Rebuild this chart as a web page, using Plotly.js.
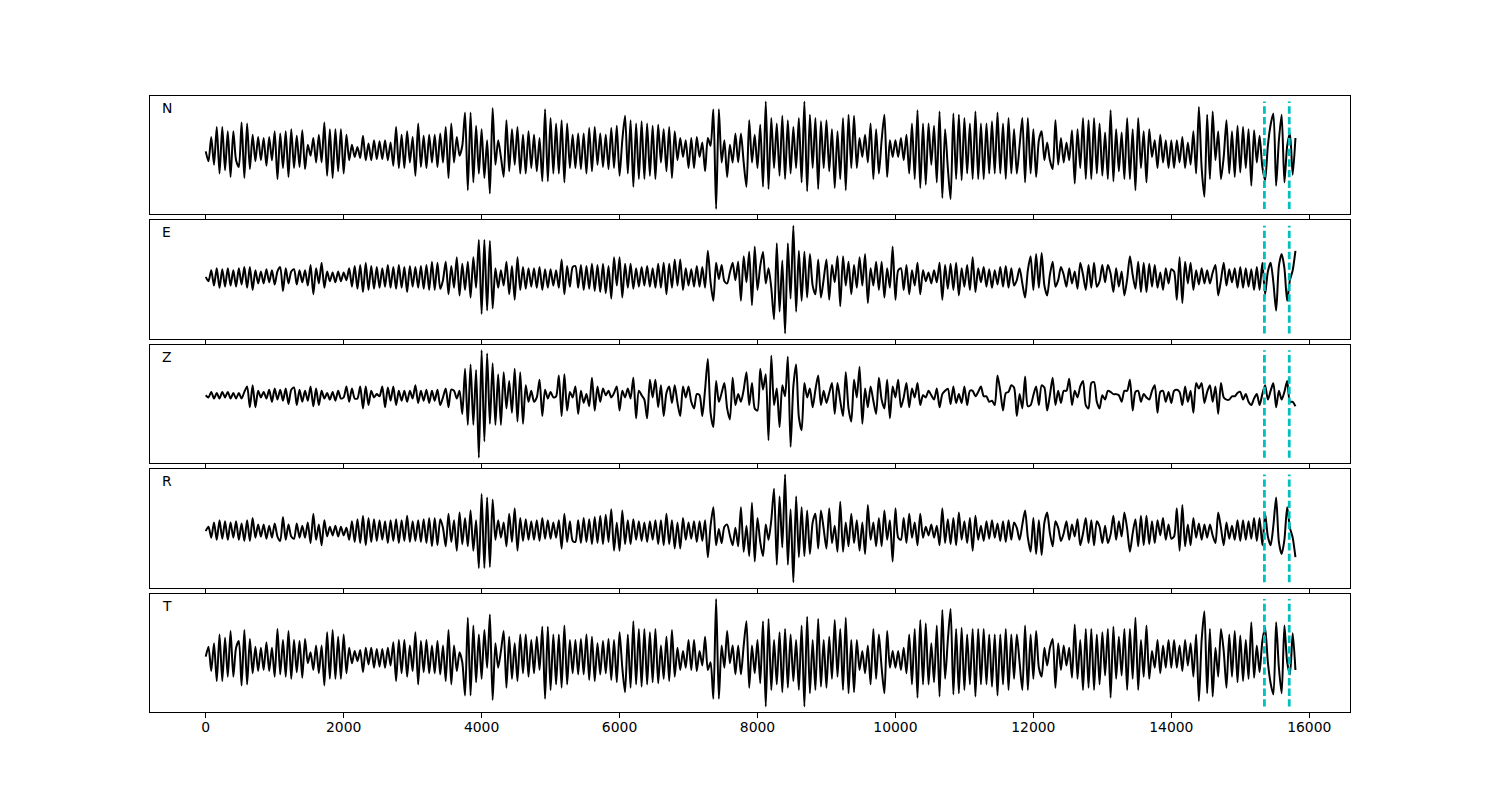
<!DOCTYPE html>
<html>
<head>
<meta charset="utf-8">
<script src="https://cdn.plot.ly/plotly-3.0.1.min.js"></script>
<style>
  html, body { margin: 0; padding: 0; background: #ffffff; }
  #chart { width: 1500px; height: 800px; }
</style>
</head>
<body>
<div id="chart"></div>
<script>
// ---------- data ----------
const sampleStep = 40;               // time units between samples
const channelNames = ["N", "E", "Z", "R", "T"];
const markerTimes = [15350, 15710];  // cyan dashed picks
const tickValues = [0, 2000, 4000, 6000, 8000, 10000, 12000, 14000, 16000];
const tickLabels = ["0", "2000", "4000", "6000", "8000", "10000", "12000", "14000", "16000"];

const traceN = [
0,-9,13,-12,22,-20,22,-17,18,-23,18,-8,-14,26,-24,
25,-16,15,-9,13,-8,12,-13,13,-8,18,-25,16,-15,
18,-23,20,-15,14,-14,19,-16,
6,-4,12,-10,15,-10,26,-22,20,-24,20,-18,20,-20,15,-8,
6,-5,4,-6,14,-8,7,-8,10,-7,9,-7,10,-8,8,-13,
22,-15,15,-15,18,-10,13,-22,25,-14,14,-15,
15,-10,15,-14,16,-10,22,-24,25,-10,13,-4,
5,
35,-35,35,-28,23,-20,20,-24,10,-38,39,
-12,10,-5,-23,28,-18,20,-12,22,-20,15,-20,18,
-15,15,-18,12,-27,38,-27,30,-20,25,-20,28,-28,25,-15,15,
-15,16,-16,16,-20,21,-18,22,-12,16,-14,15,-16,21,-15,23,-22,
10,32,-20,28,-32,25,-25,27,-25,25,-22,23,-25,24,-10,20,-18,22,-24,18,
-8,12,-5,10,-15,12,-15,13,-5,8,-18,12,
5,38,-52,38,-10,10,-23,6,-10,16,-10,16,-10,-32,
28,-10,15,-15,24,-32,45,-34,30,-15,25,-22,32,-25,28,-20,22,-15,30,-28,45,-36,
33,-15,30,-34,27,-15,28,-18,
20,-33,18,-25,30,-35,
33,-15,32,-15,12,-5,15,-10,25,-25,20,-20,10,33,-23,10,-5,
10,-5,12,-8,15,-20,25,-25,37,-33,25,-30,25,-12,23,-28,36,-42,20,
-15,-43,34,-25,33,-26,30,-20,25,-25,36,-25,25,-25,25,-20,
27,-20,35,-20,25,-25,30,-20,20,-20,5,30,-28,30,-20,20,-23,10,
18,-8,8,-8,-16,28,-12,12,-10,8,-8,19,-29,20,
-15,30,-25,28,-25,30,-20,25,-22,17,-25,37,-27,20,-18,17,-25,30,-25,20,-35,30,-15,18,
-28,20,-5,10,-15,15,-10,10,-15,10,-15,10,-10,13,-15,8,-12,18,-20,40,
-15,-41,33,-25,36,-8,18,-25,-5,28,-20,18,-23,23,-19,22,-15,20,-31,19,-10,14,-14,
-26,5,24,34,-31,10,33,-28,5,16,-21,12
];

const traceE = [
0,-4,6,-8,8,-10,7,-9,8,-8,6,-9,8,-7,9,-10,9,
-12,6,-6,5,-6,7,-5,6,-7,5,9,-13,8,-6,5,
7,-7,6,-5,6,-8,11,-16,8,-6,13,-10,5,-4,
4,-5,5,-4,4,-3,8,-9,10,-11,11,-14,13,
-12,10,-11,9,-10,8,-9,11,-10,9,-11,11,-10,9,-14,10,
-9,9,-10,10,-11,11,-12,14,-12,13,-11,-3,14,-16,10,
-10,18,-17,12,-12,14,-19,18,
-10,34,-34,34,-31,33,-29,
8,-10,6,-8,14,-16,10,-21,18,-12,9,-11,8,
-9,8,-10,9,-12,7,-10,7,-8,6,-10,16,-16,10,-9,9,
10,-10,11,-12,10,-11,12,-13,11,-14,12,-15,10,-20,18,-8,18,
-19,12,-10,12,-11,8,-9,9,-8,10,-9,8,-10,12,-10,13,-16,12,-10,16,
-8,16,-12,8,-8,7,-9,10,-9,9,-10,24,
-5,-22,13,-2,11,-4,-6,4,13,-3,14,-22,19,-5,23,-26,28,
-12,10,23,-6,8,-10,-39,31,-32,15,-52,31,-20,47,-32,24,-22,23,
-19,21,-8,-16,16,-19,-2,16,-21,11,-5,19,-27,19,-8,14,-16,
11,-10,18,-8,21,-24,8,-8,14,-12,14,-19,8,-10,
28,
-21,6,8,-12,11,-16,6,-8,13,-16,6,-4,4,-6,6,-5,13,-21,11,
-11,12,-12,13,-17,8,-9,11,-12,18,-14,8,-5,9,-9,7,
-10,6,-7,9,-9,10,-10,8,-8,-3,8,-6,-19,6,19,-12,21,
-10,22,-8,-17,2,14,-9,-3,9,2,-9,8,-6,5,-11,
13,2,-12,11,-10,13,-9,-4,11,-5,11,3,-14,8,-9,5,-17,-2,19,2,-11,14,-14,13,
-14,12,-9,11,-10,4,-12,8,-6,7,5,-21,18,-24,14,-6,13,-12,6,-7,
8,-6,6,-6,4,11,-17,-3,13,-8,7,-5,8,-10,9,-10,8,-9,7,-12,9,-12,13,
-16,5,13,-5,-31,10,21,8,-22,-3,6,24
];

const traceZ = [
0,-2,3,-3,2,-3,3,-2,3,-3,2,-3,2,-3,3,8,-11,
9,-11,4,-2,3,-3,5,-6,6,-4,5,-5,6,-8,5,
7,-9,5,-6,4,-5,8,-10,6,-9,4,-3,2,-4,
3,-5,4,-3,-2,8,-6,6,-3,-3,8,-12,8,
-9,4,-2,1,-1,8,-11,7,-5,8,-9,4,-5,4,-6,4,
-3,9,-7,4,-5,5,-7,4,-5,5,-9,-2,6,-11,5,
4,-3,4,-17,24,-27,28,-27,23,-57,41,-42,38,-26,29,-27,19,-27,21,-12,13,-16,24,-24,21,-26,9,-6,
4,-6,-2,14,-19,5,-3,3,-2,-1,18,-19,19,-14,3,-2,
8,-17,4,-7,1,-10,16,-14,8,-6,6,0,4,-2,2,8,-14,
4,-2,6,-3,16,-21,4,0,-4,-21,14,-2,14,-11,9,-19,2,8,-7,9,-7,
-19,8,-2,8,-6,-12,1,0,-19,5,33,
-16,-29,13,-6,2,11,-12,-22,16,-9,1,-6,5,
21,-9,11,-12,-14,24,5,19,-41,36,-9,6,-29,9,-1,
35,-47,8,28,-20,-32,11,-2,6,-11,5,18,-9,4,-7,2,11,-17,11,-5,-19,21,-12,-24,14,-2,26,-26,6,-11,
8,-5,-17,16,-4,-12,14,-21,8,-2,14,-11,-2,11,-11,6,-2,11,-9,0,-2,4,0,-4,6,-11,1,4,
6,-8,8,-7,1,-7,8,-9,4,4,
-1,3,8,-1,-1,-6,-5,-9,18,4,
-14,2,3,9,7,-19,1,-12,17,-10,
-9,0,8,-9,9,7,-14,0,16,-9,
4,-7,4,4,15,-9,4,-2,8,13,
-9,-12,11,12,-6,-12,0,-4,4,3,
1,1,0,-6,4,4,14,-14,3,4,
-6,1,-2,-4,4,9,-16,3,4,-6,
3,-7,4,5,3,-9,8,-6,4,-16,
11,6,11,-7,3,9,-6,8,-17,11,
-2,-4,-4,-1,-1,2,3,-4,1,-6,
-9,-3,1,-9,1,9,-4,4,11,-11,
4,-4,3,13,-6,-6,-10
];

const traceR = [
0,4,-6,8,-8,10,-7,9,-8,8,-6,9,-8,7,-9,10,-9,
12,-6,6,-5,6,-7,5,-6,7,-5,-9,13,-8,6,-5,
-7,7,-6,5,-6,8,-11,16,-8,6,-13,10,-5,4,
-4,5,-5,4,-4,3,-8,9,-10,11,-11,14,-13,
12,-10,11,-9,10,-8,9,-11,10,-9,11,-11,10,-9,14,-10,
9,-9,10,-10,11,-11,12,-14,12,-13,11,3,-14,16,-10,
10,-18,17,-12,12,-14,19,-18,
10,-34,34,-34,31,-33,29,
-8,10,-6,8,-14,16,-10,21,-18,12,-9,11,-8,
9,-8,10,-9,12,-7,10,-7,8,-6,10,-16,16,-10,9,-9,
-10,10,-11,12,-10,11,-12,13,-11,14,-12,15,-10,20,-18,8,-18,
19,-12,10,-12,11,-8,9,-9,8,-10,9,-8,10,-12,10,-13,16,-12,10,-16,
8,-16,12,-8,8,-7,9,-10,9,-9,10,-24,
5,22,-13,2,-11,4,6,-4,-13,3,-14,22,-19,5,-23,26,-28,
12,-10,-23,6,-8,10,39,-31,32,-15,52,-31,20,-47,32,-24,22,-23,
19,-21,8,16,-16,19,2,-16,21,-11,5,-19,27,-19,8,-14,16,
-11,10,-18,8,-21,24,-8,8,-14,12,-14,19,-8,10,
-28,
21,-6,-8,12,-11,16,-6,8,-13,16,-6,4,-4,6,-6,5,-13,21,-11,
11,-12,12,-13,17,-8,9,-11,12,-18,14,-8,5,-9,9,-7,
10,-6,7,-9,9,-10,10,-8,8,3,-8,6,19,-6,-19,12,-21,
10,-22,8,17,-2,-14,9,3,-9,-2,9,-8,6,-5,11,
-13,-2,12,-11,10,-13,9,4,-11,5,-11,-3,14,-8,9,-5,17,2,-19,-2,11,-14,14,-13,
14,-12,9,-11,10,-4,12,-8,6,-7,-5,21,-18,24,-14,6,-13,12,-6,7,
-8,6,-6,6,-4,-11,17,3,-13,8,-7,5,-8,10,-9,10,-8,9,-7,12,-9,12,-13,
16,-5,-13,5,31,-10,-21,-8,22,3,-6,-24
];

const traceT = [
0,9,-13,12,-22,20,-22,17,-18,23,-18,8,14,-26,24,
-25,16,-15,9,-13,8,-12,13,-13,8,-18,25,-16,15,
-18,23,-20,15,-14,14,-19,16,
-6,4,-12,10,-15,10,-26,22,-20,24,-20,18,-20,20,-15,8,
-6,5,-4,6,-14,8,-7,8,-10,7,-9,7,-10,8,-8,13,
-22,15,-15,15,-18,10,-13,22,-25,14,-14,15,
-15,10,-15,14,-16,10,-22,24,-25,10,-13,4,
-5,
-35,35,-35,28,-23,20,-20,24,-10,38,-39,
12,-10,5,23,-28,18,-20,12,-22,20,-15,20,-18,
15,-15,18,-12,27,-38,27,-30,20,-25,20,-28,28,-25,15,-15,
15,-16,16,-16,20,-21,18,-22,12,-16,14,-15,16,-21,15,-23,22,
-10,-32,20,-28,32,-25,25,-27,25,-25,22,-23,25,-24,10,-20,18,-22,24,-18,
8,-12,5,-10,15,-12,15,-13,5,-8,18,-12,
-5,-38,52,-38,10,-10,23,-6,10,-16,10,-16,10,32,
-28,10,-15,15,-24,32,-45,34,-30,15,-25,22,-32,25,-28,20,-22,15,-30,28,-45,36,
-33,15,-30,34,-27,15,-28,18,
-20,33,-18,25,-30,35,
-33,15,-32,15,-12,5,-15,10,-25,25,-20,20,-10,-33,23,-10,5,
-10,5,-12,8,-15,20,-25,25,-37,33,-25,30,-25,12,-23,28,-36,42,-20,
15,43,-34,25,-33,26,-30,20,-25,25,-36,25,-25,25,-25,20,
-27,20,-35,20,-25,25,-30,20,-20,20,-5,-30,28,-30,20,-20,23,-10,
-18,8,-8,8,16,-28,12,-12,10,-8,8,-19,29,-20,
15,-30,25,-28,25,-30,20,-25,22,-17,25,-37,27,-20,18,-17,25,-30,25,-20,35,-30,15,-18,
28,-20,5,-10,15,-15,10,-10,15,-10,15,-10,10,-13,15,-8,12,-18,20,-40,
15,41,-33,25,-36,8,-18,25,5,-28,20,-18,23,-23,19,-22,15,-20,31,-19,10,-14,14,
26,-5,-24,-34,31,-10,-33,28,-5,-16,21,-12
];

const channelData = [traceN, traceE, traceZ, traceR, traceT];

// ---------- layout geometry (figure fractions) ----------
const plotLeft = 0.1, plotRight = 0.9, plotTop = 0.88, plotBottom = 0.11, hspace = 0.05;
const nRows = channelData.length;
const rowH = (plotTop - plotBottom) / (nRows + (nRows - 1) * hspace);
const gapH = rowH * hspace;
const xRange = [-808, 16591];
const FONT = "DejaVu Sans, Liberation Sans, sans-serif";

const traces = [];
const shapes = [];
const annotations = [];
const layout = {
  width: 1500, height: 800,
  margin: { l: 0, r: 0, t: 0, b: 0, pad: 0 },
  paper_bgcolor: "#ffffff",
  plot_bgcolor: "#ffffff",
  showlegend: false,
  font: { family: FONT, size: 13.9, color: "#000000" }
};

channelData.forEach((vals, i) => {
  const sfx = i === 0 ? "" : String(i + 1);
  const xa = "x" + sfx, ya = "y" + sfx;
  const top = plotTop - i * (rowH + gapH);
  const bottom = top - rowH;
  const t = vals.map((_, k) => k * sampleStep);
  traces.push({
    type: "scatter", mode: "lines", x: t, y: vals,
    xaxis: xa, yaxis: ya,
    line: { color: "#000000", width: 2, shape: "spline", smoothing: 0.7 },
    hoverinfo: "skip"
  });
  const lo = Math.min(...vals), hi = Math.max(...vals);
  const pad = 0.05 * (hi - lo);
  const isBottom = i === nRows - 1;
  layout["xaxis" + sfx] = {
    domain: [plotLeft, plotRight],
    range: xRange,
    anchor: ya,
    matches: i === 0 ? undefined : "x",
    showline: true, mirror: true, linecolor: "#000000", linewidth: 1,
    ticks: "outside", ticklen: 5, tickwidth: 1, tickcolor: "#000000",
    tickmode: "array", tickvals: tickValues, ticktext: tickLabels,
    showticklabels: isBottom,
    ticklabelstandoff: -3,
    tickfont: { family: FONT, size: 13.9, color: "#000000" },
    showgrid: false, zeroline: false
  };
  layout["yaxis" + sfx] = {
    domain: [bottom, top],
    range: [lo - pad, hi + pad],
    anchor: xa,
    showline: true, mirror: true, linecolor: "#000000", linewidth: 1,
    ticks: "", showticklabels: false,
    showgrid: false, zeroline: false
  };
  markerTimes.forEach(mt => {
    shapes.push({
      type: "line", xref: xa, yref: ya,
      x0: mt, x1: mt, y0: lo, y1: hi,
      line: { color: "#00BFBF", width: 2.8, dash: "7.4px,3.2px" },
      layer: "above"
    });
  });
  annotations.push({
    xref: "paper", yref: "paper",
    x: 159.5 / 1500, y: top - 12 / 800,
    xanchor: "left", yanchor: "middle",
    text: channelNames[i], showarrow: false,
    font: { family: FONT, size: 13.9, color: "#000000" }
  });
});

layout.shapes = shapes;
layout.annotations = annotations;

Plotly.newPlot("chart", traces, layout, { displayModeBar: false, responsive: false });
</script>
</body>
</html>
